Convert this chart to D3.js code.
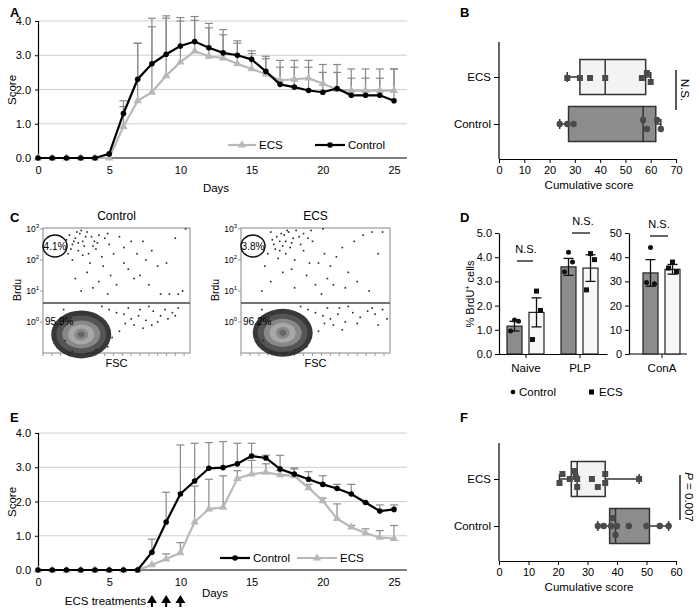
<!DOCTYPE html>
<html><head><meta charset="utf-8">
<script src="https://cdn.jsdelivr.net/npm/d3@7"></script>
<style>body{margin:0;background:#fff}text{font-family:"Liberation Sans",Arial,sans-serif}</style>
</head><body><svg id="s" width="700" height="610"></svg>
<script>
// ---------- data ----------
const days = d3.range(0, 26);
const aControl = [0,0,0,0,0,0.12,1.3,2.3,2.75,3.03,3.27,3.4,3.22,3.07,3.0,2.88,2.53,2.15,2.07,1.97,1.92,2.03,1.83,1.83,1.83,1.67];
const aECS     = [0,0,0,0,0,0,0.92,1.67,1.92,2.4,2.8,3.12,2.97,2.92,2.75,2.6,2.45,2.27,2.3,2.33,2.17,2.0,1.97,1.97,1.97,1.97];
const aControlUp = [null,null,null,null,null,null,1.67,3.35,4.08,4.15,4.1,4.13,3.93,3.75,3.42,3.13,2.97,2.85,2.85,2.85,2.73,2.73,2.6,2.6,2.6,2.6];
const aECSUp     = [null,null,null,null,null,null,1.5,3.35,3.83,4.08,4.0,4.02,3.8,3.6,3.35,3.05,2.9,2.65,2.65,2.65,2.5,2.5,2.33,2.33,2.33,2.6];
const eControl = [0,0,0,0,0,0,0,0,0.52,1.4,2.22,2.6,2.97,2.99,3.1,3.33,3.27,2.95,2.8,2.65,2.5,2.38,2.22,1.97,1.72,1.77];
const eECS     = [0,0,0,0,0,0,0,0,0.15,0.32,0.5,1.4,1.78,1.83,2.67,2.8,2.85,2.78,2.75,2.4,2.02,1.5,1.25,1.08,0.95,0.92];
const eControlUp = [null,null,null,null,null,null,null,null,0.9,2.27,3.65,3.7,3.72,3.75,3.7,3.7,3.35,3.35,2.98,2.87,2.75,2.5,2.5,1.97,1.9,1.9];
const eECSUp     = [null,null,null,null,null,null,null,null,null,0.47,0.8,2.45,2.65,2.75,2.9,3.2,3.1,2.9,2.95,2.5,2.1,1.93,1.3,1.2,1.15,1.3];
const scoreTicks = [0,1,2,3,4];
const dayTicks = [0,5,10,15,20,25];
const treatmentDays = [8,9,10];

const boxGroups = ["ECS","Control"];
const bStats = {ECS:{lo:27,q1:32,med:42,q3:58,hi:60}, Control:{lo:24,q1:27.5,med:57,q3:62,hi:64}};
const bPoints = {ECS:[[27,1],[32,1],[36,1],[42,1],[56.5,1],[58.5,-4],[60,5]], Control:[[24,0],[27,0],[29.5,0],[57,-4],[58.5,5],[62.5,-4],[64,5]]};
const bTicks = [0,10,20,30,40,50,60,70];
const fStats = {ECS:{lo:20.5,q1:24.5,med:26.5,q3:36,hi:47.5}, Control:{lo:33.5,q1:37.5,med:39.5,q3:51,hi:57.5}};
const fPoints = {ECS:[[20.5,4],[21.5,-5],[24,0],[25.5,-8],[26,-2],[26.5,0],[26.5,8],[31.5,0],[33.5,8],[36,-5],[36,4],[47.5,0]],
                 Control:[[33.5,0],[35.5,0],[38,0],[38.5,-8],[39.5,9],[40,0],[44,0],[50,0],[54.5,0],[57.5,0]]};
const fTicks = [0,10,20,30,40,50,60];

const dCats = ["Naive","PLP"];
const dControl = [1.15,3.6], dECS = [1.72,3.55];
const dControlErr = [0.2,0.35], dECSErr = [0.6,0.55];
const dControlPts = [[1.4,1.35,0.95],[4.2,3.8,3.4]];
const dECSPts = [[2.6,1.8,0.6],[4.15,3.9,2.65]];
const conA = {control:33.5, ecs:35, controlErr:5.5, ecsErr:2, controlPts:[44,29,29.5], ecsPts:[38,34,35.5]};
const dTicks = [0,1,2,3,4,5], dTicks2 = [0,10,20,30,40,50];

// flow cytometry: [FSC %, log10 BrdU]
const flowCtrlUpper = [[18,2.8],[22,2.7],[25,2.85],[27,2.6],[30,2.9],[33,2.75],[20,2.5],[24,2.3],[28,2.45],[35,2.6],[38,2.8],[42,2.7],[45,2.5],[26,2.95],[31,2.2],[36,2.35],[40,2.1],[48,2.2],[52,2.75],[55,2.4],[60,2.6],[64,2.2],[70,2.0],[74,2.3],[78,1.8],[84,1.9],[90,2.7],[97,3.0],[58,1.7],[46,1.5],[38,1.3],[30,1.6],[22,1.4],[26,1.0],[34,1.1],[50,1.2],[62,1.4],[66,1.5],[72,1.2],[80,0.9],[86,0.9],[92,0.9],[95,1.0],[44,0.9],[20,2.0],[17,2.2],[32,1.9],[41,1.8],[55,1.9],[68,2.6],[23,2.9],[29,2.75],[21,2.6],[34,2.45],[19,2.35],[27,2.15],[37,2.55],[44,2.85],[16,2.65],[24,2.55]];
const flowCtrlLower = [[50,0.3],[55,0.25],[60,0.1],[65,0.2],[70,0.05],[75,0.35],[80,0.2],[85,0.1],[88,0.3],[92,0.45],[62,-0.1],[68,-0.2],[58,0.45],[72,0.5],[78,0.0],[83,0.4],[47,-0.5],[52,-0.3],[45,0.4],[40,0.5],[14,0.4],[12,-0.1],[15,-0.6],[44,-0.8],[36,-0.9],[20,-0.95],[56,-0.05],[66,0.4],[74,-0.1],[90,0.2]];
const flowEcsUpper = [[20,2.9],[24,2.75],[27,2.85],[30,2.6],[32,2.9],[35,2.7],[22,2.5],[26,2.6],[29,2.8],[37,2.95],[40,2.5],[45,2.7],[33,2.4],[18,2.2],[25,2.05],[30,2.2],[36,2.0],[42,2.3],[48,2.6],[52,1.9],[56,2.2],[60,1.8],[64,2.1],[68,2.4],[72,1.6],[76,2.6],[82,2.8],[88,2.9],[95,2.9],[92,2.2],[58,1.4],[50,1.2],[44,1.5],[36,1.1],[28,1.6],[20,1.3],[16,1.8],[34,1.7],[46,1.9],[62,1.2],[70,1.1],[54,0.9],[78,1.3],[86,1.0],[14,1.0],[23,2.35],[39,2.75],[28,2.45],[34,2.55],[42,2.85],[47,2.95],[55,3.0],[21,2.65],[31,2.95],[26,2.3]];
const flowEcsLower = [[50,0.3],[55,0.2],[60,0.1],[65,0.25],[70,0.0],[75,0.3],[80,0.15],[85,0.35],[90,0.25],[95,0.4],[62,-0.1],[68,-0.25],[58,0.45],[72,0.5],[78,-0.05],[88,0.45],[47,-0.5],[52,-0.3],[45,0.4],[40,0.5],[14,0.4],[12,-0.1],[15,-0.6],[44,-0.8],[36,-0.9],[20,-0.95],[56,-0.05],[66,0.45],[98,0.1],[92,-0.1]];
const flowPlots = [{title:"Control", up:flowCtrlUpper, low:flowCtrlLower, upPct:"4.1%", lowPct:"95.9%", cx:26, cy:-0.4},
                   {title:"ECS", up:flowEcsUpper, low:flowEcsLower, upPct:"3.8%", lowPct:"96.2%", cx:28, cy:-0.35}];
const flowYTicks = [0,1,2,3];
const flowGate = 0.61;

// ---------- drawing ----------
const svg = d3.select("#s");
const F = "Liberation Sans, Arial, sans-serif";
function label(t,x,y){svg.append("text").attr("x",x).attr("y",y).attr("font-size",13).attr("font-weight","bold").text(t);}
function txt(t,x,y,opt){const e=svg.append("text").attr("x",x).attr("y",y).attr("font-size",(opt&&opt.fs)||11.5).attr("text-anchor",(opt&&opt.a)||"middle").text(t);return e;}
function styleAxis(a){a.selectAll("text").attr("font-size",11).attr("font-family",F).attr("fill","#000");a.selectAll("line").attr("stroke","#000");a.select(".domain").attr("stroke","#000").attr("stroke-width",1.2);}

function linePanel(oy, sC, sE, upC, upE, legendItems){
  const x = d3.scaleLinear().domain([0,25]).range([38,394]);
  const y = d3.scaleLinear().domain([0,4]).range([oy+137,oy]);
  const g = svg.append("g");
  g.selectAll(null).data(scoreTicks.slice(1)).join("line").attr("x1",38).attr("x2",407).attr("y1",d=>y(d)).attr("y2",d=>y(d)).attr("stroke","#d0d0d0");
  const ax = g.append("g").attr("transform",`translate(0,${y(0)})`).call(d3.axisBottom(x).tickValues(dayTicks).tickSize(0).tickPadding(8));
  styleAxis(ax); ax.select(".domain").attr("d","M38,0H407");
  const ay = g.append("g").attr("transform","translate(38,0)").call(d3.axisLeft(y).tickValues(scoreTicks).tickSize(3).tickPadding(4));
  styleAxis(ay);
  [[sC,upC],[sE,upE]].forEach(([s,u])=>{
    days.forEach(d=>{ if(u[d]==null) return;
      g.append("line").attr("x1",x(d)).attr("x2",x(d)).attr("y1",y(s[d])).attr("y2",y(u[d])).attr("stroke","#8a8a8a").attr("stroke-width",1.2);
      g.append("line").attr("x1",x(d)-4).attr("x2",x(d)+4).attr("y1",y(u[d])).attr("y2",y(u[d])).attr("stroke","#8a8a8a").attr("stroke-width",1.2);
    });
  });
  const ln = d3.line().x((d,i)=>x(i)).y(d=>y(d));
  g.append("path").attr("d",ln(sE)).attr("fill","none").attr("stroke","#b8b8b8").attr("stroke-width",2.2);
  g.selectAll(null).data(sE).join("path").attr("d",d3.symbol(d3.symbolTriangle,30)).attr("transform",(d,i)=>`translate(${x(i)},${y(d)})`).attr("fill","#b8b8b8");
  g.append("path").attr("d",ln(sC)).attr("fill","none").attr("stroke","#000").attr("stroke-width",2.2);
  g.selectAll(null).data(sC).join("circle").attr("cx",(d,i)=>x(i)).attr("cy",d=>y(d)).attr("r",2.8).attr("fill","#000");
  legendItems.forEach(it=>{
    const isC = it.k==="ctrl", mx=(it.x1+it.x2)/2;
    g.append("line").attr("x1",it.x1).attr("x2",it.x2).attr("y1",it.y).attr("y2",it.y).attr("stroke",isC?"#000":"#b8b8b8").attr("stroke-width",2.2);
    if(isC) g.append("circle").attr("cx",mx).attr("cy",it.y).attr("r",2.8);
    else g.append("path").attr("d",d3.symbol(d3.symbolTriangle,30)).attr("transform",`translate(${mx},${it.y})`).attr("fill","#b8b8b8");
    g.append("text").attr("x",it.x2+3).attr("y",it.y+4).attr("font-size",11.5).text(it.t);
  });
  g.append("text").attr("transform",`translate(16,${oy+69}) rotate(-90)`).attr("text-anchor","middle").attr("font-size",11.5).text("Score");
  return {x,y};
}
label("A",10,17);
linePanel(21, aControl, aECS, aControlUp, aECSUp,
  [{k:"ecs",x1:228,x2:256,y:145,t:"ECS"},{k:"ctrl",x1:315,x2:345,y:145,t:"Control"}]);
txt("Days",216,192);
label("E",10,422);
const pE = linePanel(433, eControl, eECS, eControlUp, eECSUp,
  [{k:"ctrl",x1:220,x2:250,y:558,t:"Control"},{k:"ecs",x1:297,x2:337,y:558,t:"ECS"}]);
txt("Days",215,597);
txt("ECS treatments",146,605,{a:"end"});
treatmentDays.forEach(d=>{
  const cx = pE.x(d);
  svg.append("path").attr("d",`M${cx},595 L${cx+5},603 L${cx+1},603 L${cx+1},607 L${cx-1},607 L${cx-1},603 L${cx-5},603 Z`).attr("fill","#000");
});

// ---------- box plots ----------
function boxPanel(stats, points, ticks, maxv, top, bottom, rows, annot, annotItalic){
  const x = d3.scaleLinear().domain([0,maxv]).range([499,676]);
  const y = d3.scalePoint().domain(boxGroups).range(rows);
  const g = svg.append("g");
  const ax = g.append("g").attr("transform",`translate(0,${bottom})`).call(d3.axisBottom(x).tickValues(ticks).tickSize(4).tickSizeOuter(0).tickPadding(3));
  styleAxis(ax);
  const ay = g.append("g").attr("transform","translate(499,0)").call(d3.axisLeft(y).tickSize(5).tickPadding(3));
  styleAxis(ay); ay.select(".domain").attr("d",`M0,${top}V${bottom}`); ay.selectAll("text").attr("font-size",11.5);
  boxGroups.forEach(k=>{
    const s = stats[k], cy = y(k), hh = 17.5;
    g.append("line").attr("x1",x(s.lo)).attr("x2",x(s.hi)).attr("y1",cy).attr("y2",cy).attr("stroke","#333").attr("stroke-width",1.5);
    [s.lo,s.hi].forEach(v=>g.append("line").attr("x1",x(v)).attr("x2",x(v)).attr("y1",cy-5).attr("y2",cy+5).attr("stroke","#333").attr("stroke-width",1.5));
    g.append("rect").attr("x",x(s.q1)).attr("y",cy-hh).attr("width",x(s.q3)-x(s.q1)).attr("height",hh*2).attr("fill",k==="ECS"?"#f3f3f3":"#8c8c8c").attr("stroke","#333").attr("stroke-width",1.5);
    g.append("line").attr("x1",x(s.med)).attr("x2",x(s.med)).attr("y1",cy-hh).attr("y2",cy+hh).attr("stroke","#333").attr("stroke-width",1.5);
    points[k].forEach(p=>{
      if(k==="ECS") g.append("rect").attr("x",x(p[0])-3).attr("y",cy+p[1]-3).attr("width",6).attr("height",6).attr("fill","#4a4a4a");
      else g.append("circle").attr("cx",x(p[0])).attr("cy",cy+p[1]).attr("r",3.2).attr("fill","#4a4a4a");
    });
  });
  txt("Cumulative score",589,bottom+30);
  return {x,y};
}
label("B",460,17);
boxPanel(bStats,bPoints,bTicks,70,42,159,[77,124]);
svg.append("line").attr("x1",676).attr("x2",676).attr("y1",70).attr("y2",110).attr("stroke","#000").attr("stroke-width",1.3);
svg.append("text").attr("transform","translate(681,90) rotate(90)").attr("text-anchor","middle").attr("font-size",11.5).text("N.S.");
label("F",460,422);
boxPanel(fStats,fPoints,fTicks,60,443,561,[479,526]);
svg.append("line").attr("x1",680).attr("x2",680).attr("y1",475).attr("y2",520).attr("stroke","#000").attr("stroke-width",1.3);
const pt = svg.append("text").attr("transform","translate(685,497) rotate(90)").attr("text-anchor","middle").attr("font-size",11.5);
pt.append("tspan").attr("font-style","italic").text("P");
pt.append("tspan").text(" = 0.007");

// ---------- flow plots ----------
label("C",10,222);
flowPlots.forEach((fp,i)=>{
  const x0 = i===0?43:241, x1 = i===0?190:390;
  const x = d3.scaleLinear().domain([0,100]).range([x0,x1]);
  const y = d3.scaleLinear().domain([-1,3.03]).range([353,228]);
  const g = svg.append("g");
  g.append("rect").attr("x",x0).attr("y",228).attr("width",x1-x0).attr("height",125).attr("fill","none").attr("stroke","#999").attr("stroke-width",1.2);
  d3.range(0,101,6).forEach(v=>g.append("line").attr("x1",x(v)).attr("x2",x(v)).attr("y1",353).attr("y2",356).attr("stroke","#999"));
  flowYTicks.forEach(t=>{
    g.append("line").attr("x1",x0-3).attr("x2",x0).attr("y1",y(t)).attr("y2",y(t)).attr("stroke","#999");
    const tt = g.append("text").attr("x",x0-4).attr("y",y(t)+3).attr("text-anchor","end").attr("font-size",8.5);
    tt.append("tspan").text("10"); tt.append("tspan").attr("dy",-4).attr("font-size",6).text(String(t));
  });
  // density blob
  const bx = x(fp.cx), by = y(fp.cy);
  [[30,24,"#222",0.9],[25,19,"#555",1],[19,14,"#888",1],[13,10,"#a8a8a8",1],[7,6,"#888",1],[3.5,3,"#666",1]].forEach(e=>
    g.append("ellipse").attr("cx",bx).attr("cy",by).attr("rx",e[0]).attr("ry",e[1]).attr("fill",e[2]).attr("opacity",e[3]));
  g.selectAll(null).data(fp.low.concat(fp.up)).join("rect").attr("x",d=>x(d[0])-0.8).attr("y",d=>y(d[1])-0.8).attr("width",1.6).attr("height",1.6).attr("fill","#222");
  g.append("line").attr("x1",x0).attr("x2",x1).attr("y1",y(flowGate)).attr("y2",y(flowGate)).attr("stroke","#444").attr("stroke-width",1.5);
  g.append("ellipse").attr("cx",x0+12).attr("cy",246).attr("rx",12).attr("ry",11).attr("fill","none").attr("stroke","#111").attr("stroke-width",1.5);
  g.append("text").attr("x",x0+12).attr("y",250).attr("text-anchor","middle").attr("font-size",10).text(fp.upPct);
  g.append("text").attr("x",x0+2).attr("y",325).attr("font-size",10).text(fp.lowPct);
  txt(fp.title,(x0+x1)/2,220,{fs:12});
  txt("FSC",(x0+x1)/2,367,{fs:11});
  g.append("text").attr("transform",`translate(${x0-22},290) rotate(-90)`).attr("text-anchor","middle").attr("font-size",10.5).text("Brdu");
});

// ---------- panel D ----------
label("D",460,222);
(function(){
  const g = svg.append("g");
  const y = d3.scaleLinear().domain([0,5]).range([354,233]);
  const xb = d3.scaleBand().domain(dCats).range([499,607]);
  const ay = g.append("g").attr("transform","translate(499,0)").call(d3.axisLeft(y).tickValues(dTicks).tickSize(4).tickSizeOuter(0));
  styleAxis(ay);
  const ax = g.append("g").attr("transform","translate(0,354)").call(d3.axisBottom(xb).tickSize(4).tickSizeOuter(0).tickPadding(6));
  styleAxis(ax); ax.selectAll("text").attr("font-size",11.5);
  function group(g,cx,y,cv,ev,ce,ee,cp,ep){
    const w=15;
    [[cx-19,cv,ce,cp,"#8c8c8c",true],[cx+3,ev,ee,ep,"#f7f7f7",false]].forEach(([bx,v,e,pts,fill,isC])=>{
      g.append("rect").attr("x",bx).attr("y",y(v)).attr("width",w).attr("height",y(0)-y(v)).attr("fill",fill).attr("stroke","#222").attr("stroke-width",1.2);
      const m=bx+w/2;
      g.append("line").attr("x1",m).attr("x2",m).attr("y1",y(v-e)).attr("y2",y(v+e)).attr("stroke","#111").attr("stroke-width",1.3);
      [v-e,v+e].forEach(t=>g.append("line").attr("x1",m-5).attr("x2",m+5).attr("y1",y(t)).attr("y2",y(t)).attr("stroke","#111").attr("stroke-width",1.3));
      pts.forEach((p,j)=>{
        const px = m + [0,4,-4][j];
        if(isC) g.append("circle").attr("cx",px).attr("cy",y(p)).attr("r",2.5).attr("fill","#111");
        else g.append("rect").attr("x",px-2.5).attr("y",y(p)-2.5).attr("width",5).attr("height",5).attr("fill","#111");
      });
    });
  }
  dCats.forEach((c,i)=>group(g,xb(c)+xb.bandwidth()/2,y,dControl[i],dECS[i],dControlErr[i],dECSErr[i],dControlPts[i],dECSPts[i]));
  const y2 = d3.scaleLinear().domain([0,50]).range([354,233]);
  const xb2 = d3.scaleBand().domain(["ConA"]).range([629,695]);
  const ay2 = g.append("g").attr("transform","translate(629,0)").call(d3.axisLeft(y2).tickValues(dTicks2).tickSize(4).tickSizeOuter(0));
  styleAxis(ay2);
  const ax2 = g.append("g").attr("transform","translate(0,354)").call(d3.axisBottom(xb2).tickSize(4).tickSizeOuter(0).tickPadding(6));
  styleAxis(ax2); ax2.selectAll("text").attr("font-size",11.5); ax2.select(".domain").attr("d","M629,0H687");
  group(g,xb2("ConA")+xb2.bandwidth()/2,y2,conA.control,conA.ecs,conA.controlErr,conA.ecsErr,conA.controlPts,conA.ecsPts);
  [[526,253,517,533],[583,225,572,590],[659,228,650,668]].forEach(n=>{
    txt("N.S.",n[0],n[1],{fs:11});
    g.append("line").attr("x1",n[2]).attr("x2",n[3]).attr("y1",n[1]+8).attr("y2",n[1]+8).attr("stroke","#000").attr("stroke-width",1.2);
  });
  const yl = g.append("text").attr("transform","translate(474,294) rotate(-90)").attr("text-anchor","middle").attr("font-size",11);
  yl.append("tspan").text("% BrdU"); yl.append("tspan").attr("dy",-4).attr("font-size",7).text("+"); yl.append("tspan").attr("dy",4).text(" cells");
  g.append("circle").attr("cx",513).attr("cy",392).attr("r",2.3);
  g.append("text").attr("x",519).attr("y",396).attr("font-size",11.5).text("Control");
  g.append("rect").attr("x",589).attr("y",389.5).attr("width",5).attr("height",5);
  g.append("text").attr("x",599).attr("y",396).attr("font-size",11.5).text("ECS");
})();
</script></body></html>
